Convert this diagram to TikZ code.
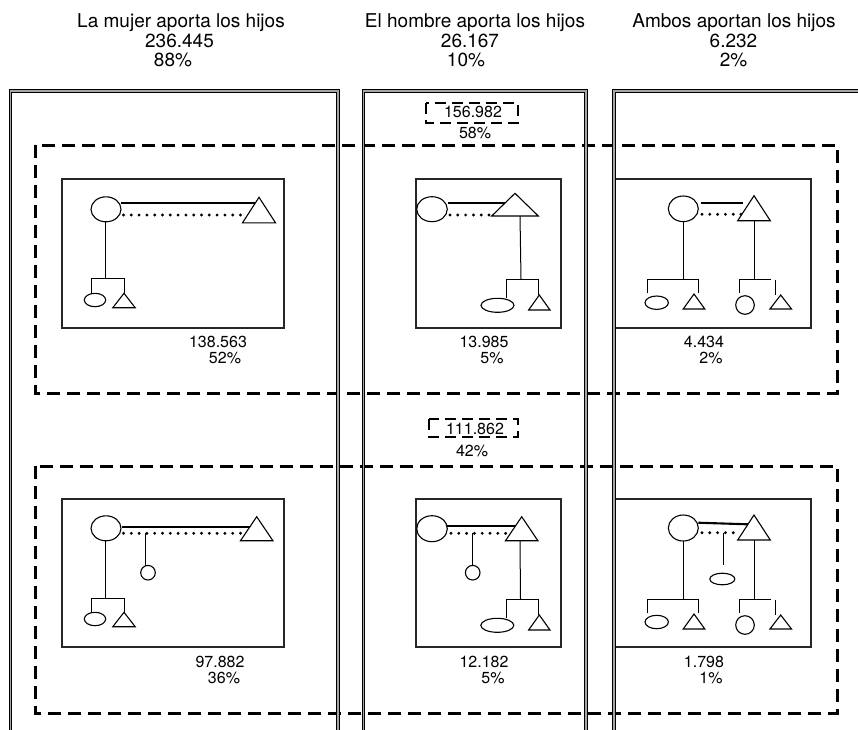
\documentclass[tikz,border=0pt]{standalone}
\usepackage{fontspec}
\setmainfont{TeX Gyre Heros}
\usetikzlibrary{shapes.geometric}
\newcommand\mytri[5]{%
  \coordinate (#1) at (#2,#3);
  \draw[shp] (#1) -- ++(-#4,#5) -- ++(2*#4,0) -- cycle;}
\begin{document}
\begin{tikzpicture}[x=1pt,y=-1pt,
  hdr/.style={font=\fontsize{19}{19.5}\selectfont, anchor=base, inner sep=0pt},
  lbl/.style={font=\fontsize{16}{16}\selectfont, anchor=base, inner sep=0pt},
  bigdash/.style={draw, line width=3pt, dash pattern=on 12.7pt off 7.3pt},
  smalldash/.style={draw, line width=2.8pt, dash pattern=on 11pt off 6pt},
  colb/.style={draw, line width=1pt, double=black!35, double distance=1.6pt},
  panel/.style={draw, line width=1.2pt, black!85},
  couple/.style={line width=2.1pt},
  dots/.style={line width=3.2pt, dash pattern=on 0pt off 7.8pt, line cap=round},
  kin/.style={line width=1pt},
  shp/.style={draw, fill=white, line width=1.1pt},
  fem/.style={shp, ellipse, inner sep=0pt},
]
\useasboundingbox (0,0) rectangle (858,729);
\clip (0,0) rectangle (858,729);

% headers
\node[hdr] (h1a) at (181,27) {La mujer aporta los hijos};
\node[hdr] (h1b) at (179.5,47) {236.445};
\node[hdr] (h1c) at (173,66) {88\%};
\node[hdr] (h2a) at (475,27) {El hombre aporta los hijos};
\node[hdr] (h2b) at (470,47) {26.167};
\node[hdr] (h2c) at (466,66) {10\%};
\node[hdr] (h3a) at (734,27) {Ambos aportan los hijos};
\node[hdr] (h3b) at (733.5,47) {6.232};
\node[hdr] (h3c) at (733.5,66) {2\%};

% big dashed frames
\path[bigdash] (35,145) rectangle (837,393);
\path[bigdash] (35,466) rectangle (837,713);

% panels
\path[panel] (62,179) rectangle (284,328);
\path[panel] (62,499) rectangle (284,647);
\path[panel] (416,179) rectangle (561,328);
\path[panel] (416,499) rectangle (561,647);
\path[panel] (614,179) rectangle (811,328);
\path[panel] (614,499) rectangle (811,647);

% ================= Panel A (col1 top)
\draw[couple] (121,203.3) -- (257,203.3);
\draw[dots] (123.5,215) -- (245,215);
\draw[kin] (105.5,222) -- (105.5,278.3);
\draw[kin] (91.7,293.3) -- (91.7,278.3) -- (124,278.3) -- (124,293.3);
\node[fem, minimum width=30pt, minimum height=25pt] (a1) at (106,209.3) {};
\mytri{a2}{259}{197.3}{16.5}{25.5}
\node[fem, minimum width=21.4pt, minimum height=13.4pt] (a3) at (95,300) {};
\mytri{a4}{124}{293.3}{11.2}{14.4}
\node[lbl] (a5) at (218,347) {138.563};
\node[lbl] (a6) at (225,363) {52\%};

% ================= Panel B (col1 bottom)
\draw[couple] (121.7,526.7) -- (252,526.7);
\draw[dots] (123.5,533.3) -- (243,533.3);
\draw[kin] (145.7,533.3) -- (145.7,566);
\draw[kin] (105.3,541) -- (105.3,598.3);
\draw[kin] (91.7,612.3) -- (91.7,598.3) -- (124,598.3) -- (124,612.3);
\node[fem, minimum width=30pt, minimum height=25pt] (b1) at (106,528.3) {};
\mytri{b2}{256.7}{516.7}{16.2}{24}
\node[fem, minimum width=14.6pt, minimum height=14.6pt] (b3) at (148,572.7) {};
\node[fem, minimum width=21.4pt, minimum height=13.4pt] (b4) at (95,619) {};
\mytri{b5}{124}{612.3}{11.2}{14.4}
\node[lbl] (b6) at (220,667) {97.882};
\node[lbl] (b7) at (224,683) {36\%};

% ================= Panel C (col2 top)
\path[smalldash] (426,103) rectangle (518,123);
\node[lbl] (c0) at (473,117) {156.982};
\node[lbl] (c00) at (475,138) {58\%};
\draw[couple] (448,203.3) -- (508,203.3);
\draw[dots] (450,215) -- (492,215);
\draw[kin] (520,216) -- (521,279);
\draw[kin] (506,298.3) -- (506,279) -- (538.3,279) -- (538.3,295);
\node[fem, minimum width=30.6pt, minimum height=25pt] (c1) at (432,209.2) {};
\mytri{c2}{515}{193.3}{23.3}{22.7}
\node[fem, minimum width=33pt, minimum height=14pt] (c3) at (497.5,305.3) {};
\mytri{c4}{539.3}{295}{10.7}{15}
\node[lbl] (c5) at (484,347) {13.985};
\node[lbl] (c6) at (492,363) {5\%};

% ================= Panel D (col2 bottom)
\path[smalldash] (429,419) rectangle (518,437);
\node[lbl] (d0) at (475,434) {111.862};
\node[lbl] (d00) at (472,456) {42\%};
\draw[couple] (447,526) -- (517,526);
\draw[dots] (451,533.3) -- (508.3,533.3);
\draw[kin] (472.7,533.3) -- (472.7,566);
\draw[kin] (520,540.7) -- (520.5,599);
\draw[kin] (506,618.3) -- (506,599) -- (538.3,599) -- (538.3,615);
\node[fem, minimum width=30.6pt, minimum height=26pt] (d1) at (432,528.7) {};
\mytri{d2}{521.7}{516.7}{16.2}{24}
\node[fem, minimum width=14.6pt, minimum height=14.6pt] (d3) at (472.7,572.7) {};
\node[fem, minimum width=33pt, minimum height=14pt] (d4) at (497.3,625.3) {};
\mytri{d5}{539.3}{615}{10.7}{15}
\node[lbl] (d6) at (484,667) {12.182};
\node[lbl] (d7) at (493,683) {5\%};

% ================= Panel E (col3 top)
\draw[couple] (700.7,203.3) -- (742.7,203.3);
\draw[dots] (702,214.3) -- (741.7,214.3);
\draw[kin] (683.3,221.6) -- (683.3,279);
\draw[kin] (647.7,293.3) -- (647.7,279) -- (698.3,279) -- (698.3,293.3);
\draw[kin] (754,220.7) -- (754,279);
\draw[kin] (739,293.3) -- (739,279) -- (771,279);
\draw[kin] (775,280) -- (775,295);
\node[fem, minimum width=30pt, minimum height=25.6pt] (e1) at (683.3,208.8) {};
\mytri{e2}{754}{195.7}{16.3}{25}
\node[fem, minimum width=23.4pt, minimum height=13.4pt] (e3) at (656.7,302.7) {};
\mytri{e4}{694}{294}{10.8}{15}
\node[fem, minimum width=18.6pt, minimum height=18.6pt] (e5) at (745,305) {};
\mytri{e6}{780.7}{295}{10.8}{14}
\node[lbl] (e7) at (704,347) {4.434};
\node[lbl] (e8) at (711,363) {2\%};

% ================= Panel F (col3 bottom)
\draw[couple] (698.3,522.7) -- (748.3,524.3);
\draw[dots] (702,532.7) -- (740,532.7);
\draw[kin] (723.3,532.7) -- (723.3,565);
\draw[kin] (683.3,541) -- (683.3,599);
\draw[kin] (647.7,613.3) -- (647.7,599) -- (698.3,599) -- (698.3,613.3);
\draw[kin] (754,540) -- (754,599);
\draw[kin] (739,613.3) -- (739,599) -- (771,599);
\draw[kin] (775,600) -- (775,615);
\node[fem, minimum width=30pt, minimum height=26pt] (f1) at (683.3,528) {};
\mytri{f2}{754}{515}{16.3}{25}
\node[fem, minimum width=25pt, minimum height=11.6pt] (f3) at (722.3,579) {};
\node[fem, minimum width=23.4pt, minimum height=13.4pt] (f4) at (656.7,622) {};
\mytri{f5}{694}{614}{10.8}{15}
\node[fem, minimum width=18.6pt, minimum height=18.6pt] (f6) at (745,625) {};
\mytri{f7}{780.7}{615}{10.8}{14}
\node[lbl] (f8) at (704,667) {1.798};
\node[lbl] (f9) at (711,683) {1\%};

% columns (double ridge borders)
\path[colb] (10.5,91) rectangle (338,780);
\path[colb] (363.5,91) rectangle (586,780);
\path[colb] (614,91) rectangle (900,780);
\end{tikzpicture}
\end{document}
